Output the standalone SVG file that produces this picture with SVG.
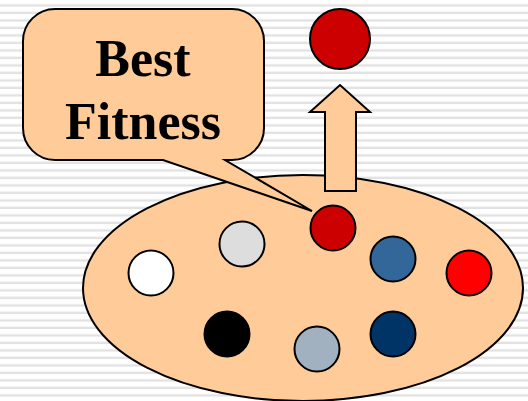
<svg xmlns="http://www.w3.org/2000/svg" width="528" height="401" viewBox="0 0 528 401">
<style>
.sh{fill:#FFCC99;stroke:#000;stroke-width:2}
.c{stroke:#000;stroke-width:2}
.t{font-family:"Liberation Serif","Times New Roman",serif;font-weight:bold;font-size:52px;fill:#000;text-anchor:middle}
</style>
<defs>
<pattern id="stripes" patternUnits="userSpaceOnUse" x="0" y="0" width="528" height="7.5">
<rect x="0" y="4.2" width="528" height="2.4" fill="#e2e2e2"/>
</pattern>
</defs>
<rect width="528" height="401" fill="#fff"/>
<rect width="528" height="401" fill="url(#stripes)"/>
<g id="population">
<ellipse class="sh" cx="303" cy="288" rx="220" ry="113"/>
</g>
<g id="arrow">
<path class="sh" d="M325,191 V112 H310 L340,85 L370,112 H356 V191 Z"/>
</g>
<g id="callout">
<path class="sh" d="M55,9 H232 A32,32 0 0 1 264,41 V128 A32,32 0 0 1 232,160 H225 L312,211 L163,160 H55 A32,32 0 0 1 23,128 V41 A32,32 0 0 1 55,9 Z"/>
<text class="t" x="143" y="76">Best</text>
<text class="t" x="143" y="139">Fitness</text>
</g>
<g id="best-selected"><circle class="c" cx="340" cy="39" r="30" fill="#CC0000"/></g>
<g id="ind-best"><circle class="c" cx="333" cy="228" r="22.5" fill="#CC0000"/></g>
<g id="ind-lightgray"><circle class="c" cx="242" cy="244" r="22.5" fill="#DDDDDD"/></g>
<g id="ind-white"><circle class="c" cx="151" cy="273" r="22.5" fill="#FFFFFF"/></g>
<g id="ind-steelblue"><circle class="c" cx="393" cy="259" r="22.5" fill="#336699"/></g>
<g id="ind-red"><circle class="c" cx="469" cy="273" r="22.5" fill="#FF0000"/></g>
<g id="ind-black"><circle class="c" cx="227" cy="334" r="22.5" fill="#000000"/></g>
<g id="ind-grayblue"><circle class="c" cx="317" cy="349" r="22.5" fill="#A2B1C0"/></g>
<g id="ind-navy"><circle class="c" cx="393" cy="334" r="22.5" fill="#003366"/></g>
<g id="connectors"></g>
</svg>
